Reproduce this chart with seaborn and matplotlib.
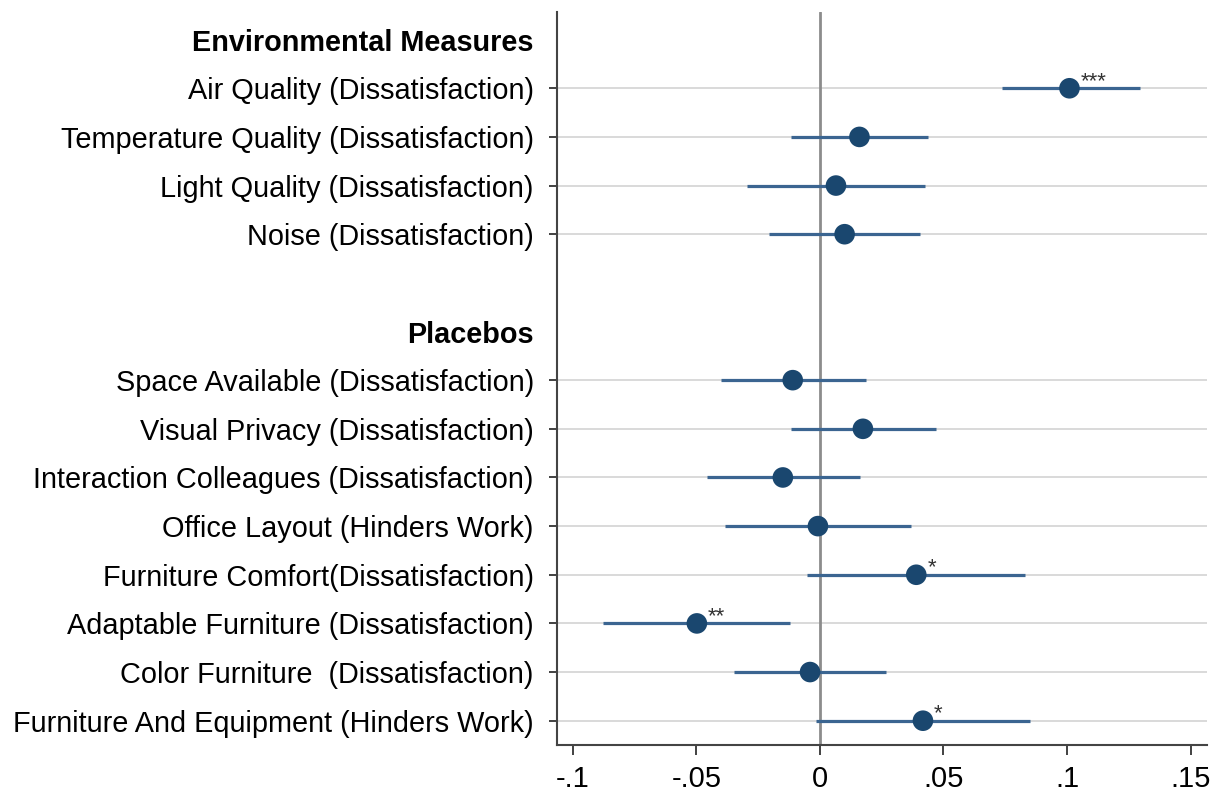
import numpy as np
import pandas as pd
import seaborn as sns
from matplotlib import pyplot as plt

# row labels (headings included, "" is a blank spacer row)
labels = ["Environmental Measures",
          "Air Quality (Dissatisfaction)",
          "Temperature Quality (Dissatisfaction)",
          "Light Quality (Dissatisfaction)",
          "Noise (Dissatisfaction)",
          "",
          "Placebos",
          "Space Available (Dissatisfaction)",
          "Visual Privacy (Dissatisfaction)",
          "Interaction Colleagues (Dissatisfaction)",
          "Office Layout (Hinders Work)",
          "Furniture Comfort(Dissatisfaction)",
          "Adaptable Furniture (Dissatisfaction)",
          "Color Furniture  (Dissatisfaction)",
          "Furniture And Equipment (Hinders Work)"]
headings = ["Environmental Measures", "Placebos"]

# estimates only for the variable rows
variables = [labels[i] for i in (1, 2, 3, 4, 7, 8, 9, 10, 11, 12, 13, 14)]
coef = [0.101, 0.016, 0.0065, 0.010, -0.011, 0.0174, -0.015, -0.0008, 0.039, -0.0498, -0.004, 0.0417]
ci_low = [0.0737, -0.0117, -0.0296, -0.0206, -0.0401, -0.0117, -0.0457, -0.0385, -0.0053, -0.0879, -0.0348, -0.0016]
ci_high = [0.1296, 0.0437, 0.0425, 0.0405, 0.0186, 0.047, 0.0162, 0.0368, 0.083, -0.0121, 0.0267, 0.085]
stars = ["***", "", "", "", "", "", "", "", "*", "**", "", "*"]

xticks = [-0.1, -0.05, 0, 0.05, 0.1, 0.15]
xticklabels = ["-.1", "-.05", "0", ".05", ".1", ".15"]

df = pd.DataFrame({"variable": variables, "coef": coef, "lo": ci_low, "hi": ci_high, "stars": stars})
df["pos"] = [labels.index(v) for v in df["variable"]]

sns.set_style("white")
plt.rcParams["font.family"] = ["Liberation Sans", "DejaVu Sans"]

fig = plt.figure(figsize=(12.21, 7.92), dpi=100)
ax = fig.add_axes([0.456, 0.0593, 0.5326, 0.9257])

navy = "#1a476f"
ci_col = "#3b6591"

# gridlines on variable rows
for p in df["pos"]:
    ax.axhline(p, color="#d9d9d9", lw=1.4, zorder=0)
ax.axvline(0, color="#8c8c8c", lw=2, zorder=1)

ax.hlines(df["pos"], df["lo"], df["hi"], color=ci_col, lw=2.3, zorder=2)
sns.scatterplot(data=df, x="coef", y="pos", ax=ax, color=navy, s=220,
                edgecolor="none", zorder=3, legend=False)

for _, r in df.iterrows():
    if r["stars"]:
        ax.text(r["coef"] + 0.0045, r["pos"] + 0.08, r["stars"], fontsize=16,
                color="#333333", ha="left", va="bottom", zorder=4)

ax.set_xlim(-0.1065, 0.1567)
ax.set_ylim(len(labels) - 0.5, -0.57)
ax.set_xticks(xticks)
ax.set_xticklabels(xticklabels, fontsize=21, color="black")
ax.set_yticks(range(len(labels)))
ax.set_yticklabels(labels, fontsize=20.8, color="black")
ax.set_xlabel("")
ax.set_ylabel("")

ax.tick_params(axis="both", which="both", direction="out", width=1.3,
               color="#333333", left=True, bottom=True)
ax.tick_params(axis="y", length=6, pad=10.5)
ax.tick_params(axis="x", length=7.5, pad=7)

for tick, lab in zip(ax.yaxis.get_major_ticks(), labels):
    if lab in headings:
        tick.label1.set_fontweight("bold")
        tick.tick1line.set_visible(False)
    elif lab == "":
        tick.tick1line.set_visible(False)

sns.despine(ax=ax)
for s in ("left", "bottom"):
    ax.spines[s].set_color("#444444")
    ax.spines[s].set_linewidth(1.5)

fig.savefig("out.png", dpi=100)
